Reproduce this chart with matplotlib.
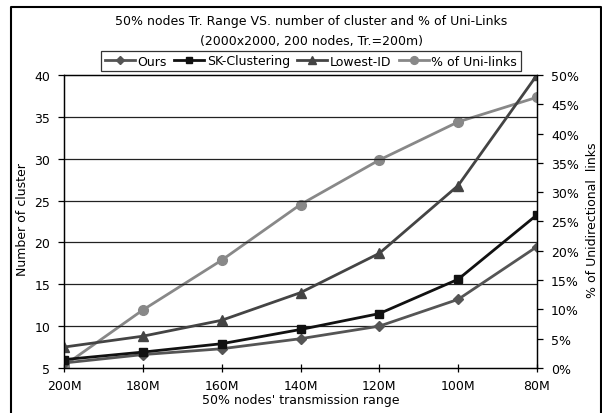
import matplotlib.pyplot as plt
from matplotlib.lines import Line2D

# Datos: número de clusters y % de enlaces unidireccionales
rangos = ['200M', '180M', '160M', '140M', '120M', '100M', '80M']
ours = [5.6, 6.6, 7.3, 8.5, 10.0, 13.2, 19.5]
sk_clustering = [6.0, 6.9, 7.9, 9.6, 11.5, 15.6, 23.3]
lowest_id = [7.5, 8.8, 10.7, 14.0, 18.7, 26.8, 40.0]
uni_links = [0.4, 9.9, 18.4, 27.9, 35.5, 42.0, 46.2]

plt.rcParams['font.family'] = 'DejaVu Sans'
plt.rcParams['font.size'] = 9

W, H = 602, 414
fig = plt.figure(figsize=(W / 100, H / 100), dpi=100)
ax = fig.add_axes([64 / W, 45 / H, 473 / W, 293 / H])
ax2 = ax.twinx()

x = range(len(rangos))
l1, = ax.plot(x, ours, color='#555555', lw=2, marker='D', ms=5, label='Ours')
l2, = ax.plot(x, sk_clustering, color='#111111', lw=2, marker='s', ms=6, label='SK-Clustering')
l3, = ax.plot(x, lowest_id, color='#444444', lw=2, marker='^', ms=7, label='Lowest-ID')
l4, = ax2.plot(x, uni_links, color='#888888', lw=2, marker='o', ms=7, label='% of Uni-links')
ax.set_zorder(ax2.get_zorder() + 1)
ax.patch.set_visible(False)

ax.set_xlim(0, 6)
ax.set_ylim(5, 40)
ax.set_yticks(range(5, 41, 5))
ax.set_xticks(list(x))
ax.set_xticklabels(rangos)
ax2.set_ylim(0, 50)
ax2.set_yticks(range(0, 51, 5))
ax2.set_yticklabels([f'{v}%' for v in range(0, 51, 5)])

for y in range(10, 40, 5):
    ax.axhline(y, color='#222222', lw=0.9, zorder=0)

for a in (ax, ax2):
    for s in a.spines.values():
        s.set_linewidth(0.9)
        s.set_color('black')
ax.tick_params(axis='x', direction='inout', length=6, width=0.9, pad=5)
ax.tick_params(axis='y', direction='out', length=4, width=0.9, pad=6)
ax2.tick_params(axis='y', direction='out', length=4, width=0.9, pad=6)

ax.set_xlabel("50% nodes' transmission range", labelpad=1)
fig.text(23 / W, 1 - 220 / H, 'Number of cluster', rotation=90, ha='center', va='center')
fig.text(593 / W, 1 - 220 / H, '% of Unidirectional  links', rotation=90, ha='center', va='center')

cx = 311 / W
fig.text(cx, 1 - 22 / H, '50% nodes Tr. Range VS. number of cluster and % of Uni-Links',
         ha='center', va='center')
fig.text(cx, 1 - 41 / H, '(2000x2000, 200 nodes, Tr.=200m)', ha='center', va='center')

leg = fig.legend(handles=[l1, l2, l3, l4], loc='center', bbox_to_anchor=(cx, 1 - 62 / H),
                 ncol=4, frameon=True, fancybox=False, edgecolor='black', handlelength=2.4,
                 handletextpad=0.2, columnspacing=0.6, borderpad=0.3, markerscale=0.8)
leg.get_frame().set_linewidth(0.9)

# marco del área del gráfico
x0, x1, y0 = 11 / W, 600.5 / W, 1 - 8 / H
fig.lines.append(Line2D([x0, x0, x1, x1], [-0.01, y0, y0, -0.01], transform=fig.transFigure,
                        color='black', lw=1.5))

plt.savefig('out.png', dpi=100)
